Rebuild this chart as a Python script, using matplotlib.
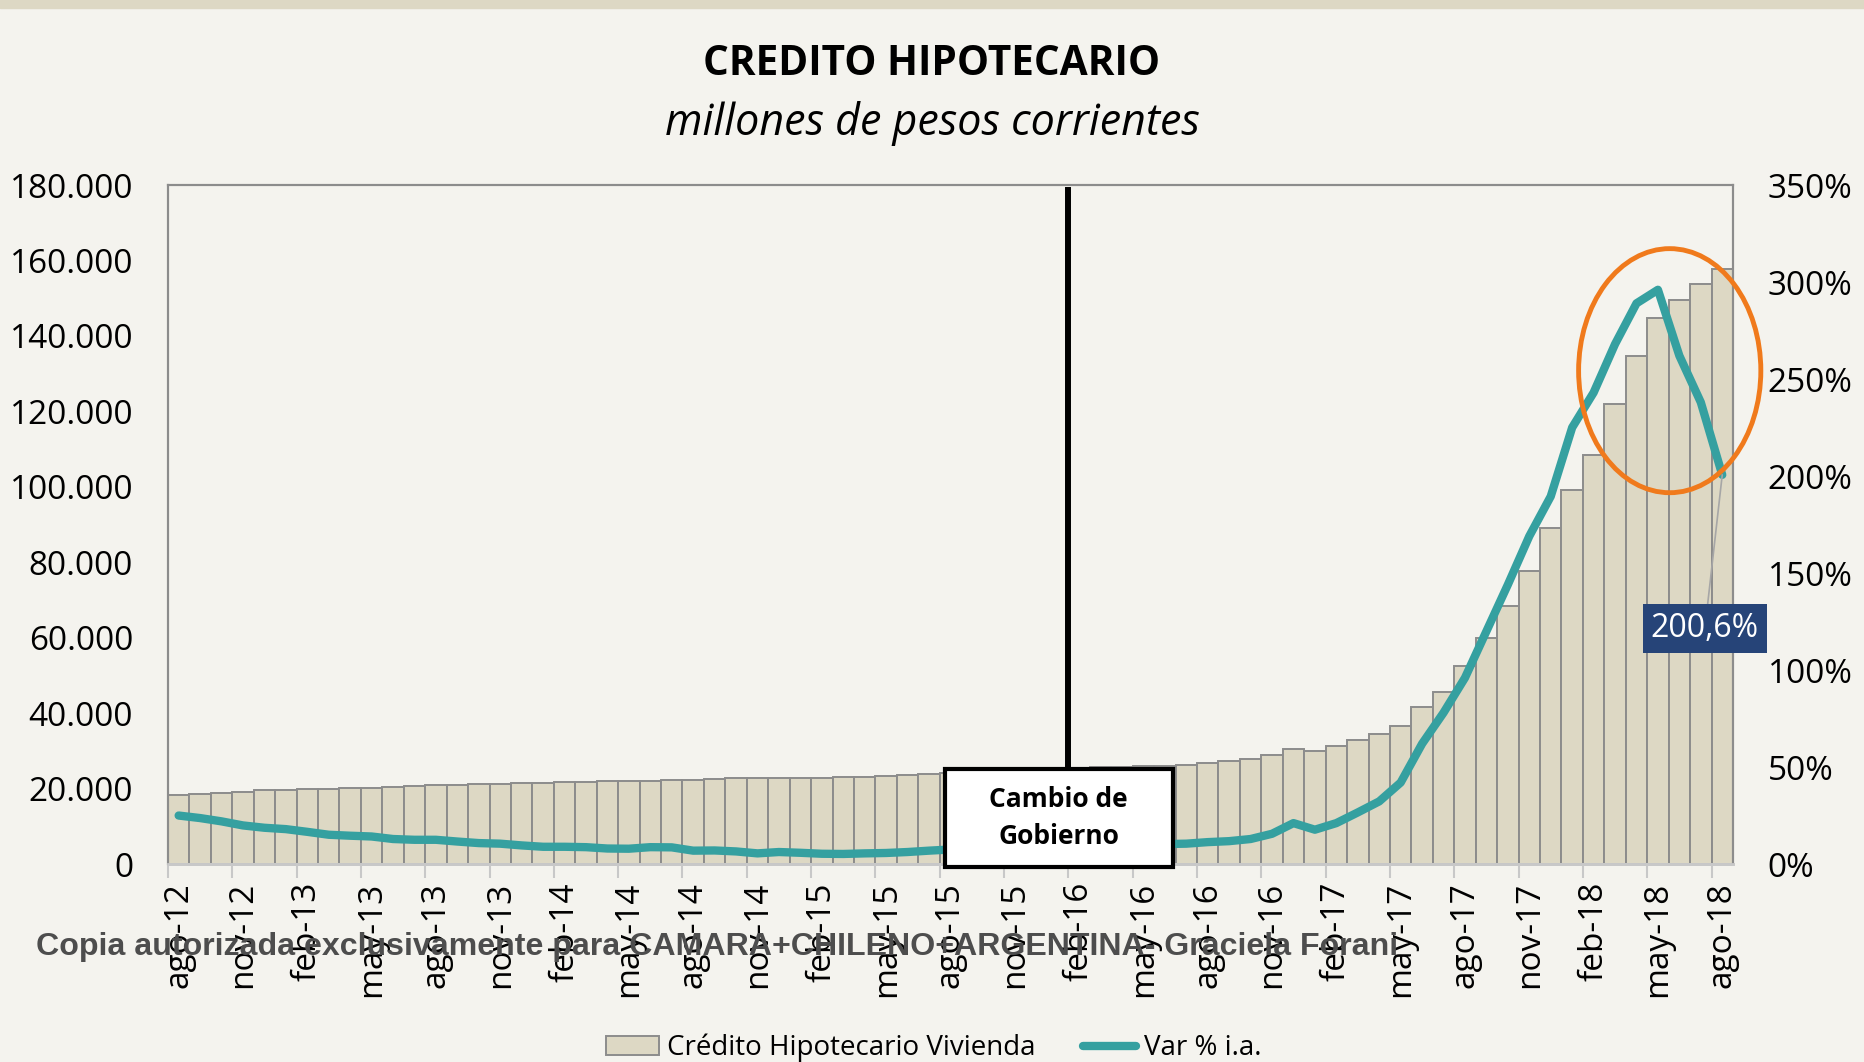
import numpy as np
import matplotlib
matplotlib.use('Agg')
import matplotlib.pyplot as plt
from matplotlib.patches import Patch, Rectangle, Ellipse
from matplotlib.lines import Line2D

# ---------------- data ----------------
meses = ['ene', 'feb', 'mar', 'abr', 'may', 'jun', 'jul', 'ago', 'sep', 'oct', 'nov', 'dic']
periodos = []
for k in range(73):
    m = (7 + k) % 12
    a = 12 + (7 + k) // 12
    periodos.append('%s-%d' % (meses[m], a))

# Credito Hipotecario Vivienda (millones de pesos)
credito = [18200, 18500, 18900, 19200, 19500, 19700, 19900, 20000, 20100, 20200,
           20300, 20600, 20900, 21000, 21200, 21300, 21500, 21600, 21700, 21800,
           21900, 22000, 22100, 22200, 22300, 22500, 22700, 22700, 22700, 22800,
           22800, 23000, 23100, 23400, 23700, 24000, 24200, 24500, 24700, 24900,
           25100, 25300, 25400, 25600, 25700, 25900, 26000, 26300, 26900, 27300,
           27800, 28800, 30500, 30000, 31200, 32800, 34500, 36500, 41600, 45700,
           52400, 59900, 68300, 77600, 89200, 99200, 108300, 121900, 134800, 144700,
           149400, 153800, 157700]

# Var % i.a.
var_ia = [25.0, 23.7, 22.0, 19.9, 18.7, 18.0, 16.6, 15.1, 14.6, 14.2,
          12.9, 12.5, 12.5, 11.6, 10.8, 10.5, 9.6, 8.9, 8.9, 8.7,
          8.0, 7.9, 8.7, 8.6, 6.9, 7.0, 6.5, 5.5, 6.2, 5.8,
          5.3, 5.2, 5.5, 5.7, 6.2, 6.9, 7.5, 8.0, 8.5, 8.5,
          8.0, 8.0, 8.5, 9.0, 9.5, 10.0, 10.3, 10.5, 11.3, 11.8,
          12.9, 15.6, 21.1, 17.7, 21.1, 26.6, 32.3, 42.0, 62.0, 78.0,
          96.0, 120.0, 144.0, 169.0, 189.5, 225.0, 243.0, 268.0, 289.0, 296.0,
          262.0, 238.0, 200.6]

left_ticks = list(range(0, 180001, 20000))
right_ticks = list(range(0, 351, 50))

bg = '#F4F3EE'
beige = '#DDD8C4'
teal = '#35A0A0'
font = 'Open Sans'

fig = plt.figure(figsize=(18.64, 10.62), dpi=100, facecolor=bg)
ax = fig.add_axes([0.0901, 0.1864, 0.8396, 0.6394])
ax.set_facecolor(bg)
ax2 = ax.twinx()

x = np.arange(len(credito))
ax.bar(x, credito, width=1.0, color=beige, edgecolor='#8C8C8C', linewidth=1.4, zorder=2)
ax2.plot(x, var_ia, color=teal, lw=6, solid_capstyle='round', solid_joinstyle='round', zorder=3)

ax.set_xlim(-0.5, len(credito) - 0.5)
ax.set_ylim(0, 180000)
ax2.set_ylim(0, 350)

# axis ticks
ax.set_xticks(x[::3])
ax.set_xticklabels(periodos[::3], rotation=90, fontsize=24, family=font)
ax.set_xticks(np.arange(-0.5, len(credito), 3), minor=True)
ax.tick_params(axis='x', which='major', length=0, pad=13)
ax.tick_params(axis='x', which='minor', length=10, width=1.5, color='#C8C8C8')
ax.set_yticks(left_ticks)
ax.set_yticklabels([format(v, ',').replace(',', '.') for v in left_ticks], fontsize=24, family=font)
ax.tick_params(axis='y', length=0, pad=25)
ax2.set_yticks(right_ticks)
ax2.set_yticklabels(['%d%%' % v for v in right_ticks], fontsize=24, family=font)
ax2.tick_params(axis='y', length=0, pad=25)

for a in (ax, ax2):
    for s in ['left', 'right', 'top']:
        a.spines[s].set_color('#8C8C8C')
        a.spines[s].set_linewidth(1.5)
    a.spines['bottom'].set_color('#C8C8C8')
    a.spines['bottom'].set_linewidth(2)

# cambio de gobierno
ax2.plot([41.5, 41.5], [49.2, 347.6], color='black', lw=4.3, zorder=5, clip_on=False)
ax2.add_patch(Rectangle((35.74, -1.4), 10.63, 50.6, facecolor='white', edgecolor='black',
                        lw=3, zorder=6, clip_on=False))
ax2.text(41.05, 23.8, 'Cambio de\nGobierno', ha='center', va='center', fontsize=19,
         fontweight='bold', family=font, linespacing=1.45, zorder=7)

# highlight ellipse
ax2.add_patch(Ellipse((69.55, 254.3), 8.5, 125.8, fill=False, edgecolor='#F07A1C',
                      lw=3.5, zorder=6, clip_on=False))

# last value label
ax2.annotate(('%.1f%%' % var_ia[-1]).replace('.', ','), xy=(x[-1], var_ia[-1]),
             xytext=(71.19, 121.3), textcoords='data', color='white', fontsize=23,
             family=font, ha='center', va='center',
             bbox=dict(boxstyle='square,pad=0.25', fc='#264478', ec='none'),
             arrowprops=dict(arrowstyle='-', color='#A6A6A6', lw=1.2, shrinkA=0, shrinkB=0),
             annotation_clip=False, zorder=8)

# titles
fig.text(0.5, 0.939, 'CREDITO HIPOTECARIO', ha='center', va='center', fontsize=29.2,
         fontweight='bold', family=font)
fig.text(0.5, 0.884, 'millones de pesos corrientes', ha='center', va='center', fontsize=31,
         style='italic', family=font)

# top band
fig.patches.append(Rectangle((0, 1 - 8 / 1062), 1, 8 / 1062, transform=fig.transFigure,
                             color=beige, zorder=0))

# watermark
fig.text(0.0193, 0.1083, 'Copia autorizada exclusivamente para CAMARA+CHILENO+ARGENTINA- Graciela Forani',
         ha='left', va='center', fontsize=23.1, fontweight='bold', family='Liberation Sans',
         color='#4d4d4d', zorder=20)

handles = [Patch(facecolor=beige, edgecolor='#8C8C8C', lw=1.4),
           Line2D([0], [0], color=teal, lw=6, solid_capstyle='round')]
fig.legend(handles, ['Crédito Hipotecario Vivienda', 'Var % i.a.'], loc='center',
           bbox_to_anchor=(0.501, 0.013), ncol=2, frameon=False,
           prop={'family': font, 'size': 20}, handlelength=1.9, columnspacing=1.7,
           handletextpad=0.3)

fig.savefig('out.png', dpi=100, facecolor=bg)
